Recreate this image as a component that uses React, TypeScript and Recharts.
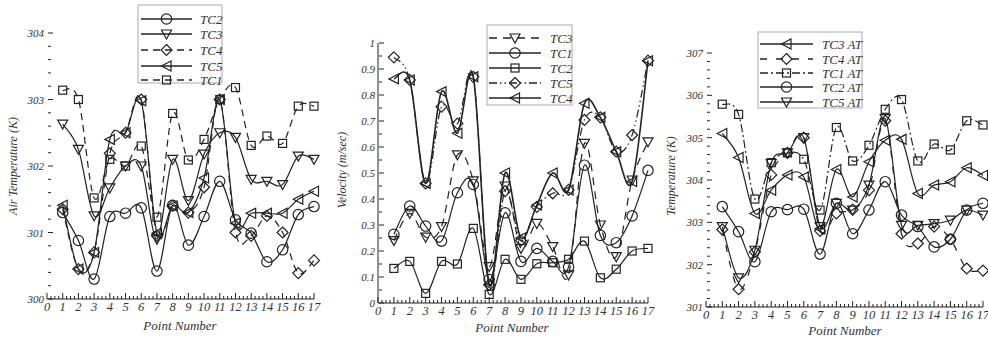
import React from 'react'
import { LineChart, Line, XAxis, YAxis } from 'recharts'

// point numbers along the channel
const points = [1, 2, 3, 4, 5, 6, 7, 8, 9, 10, 11, 12, 13, 14, 15, 16, 17]
const xLabels = [0, 1, 2, 3, 4, 5, 6, 7, 8, 9, 10, 11, 12, 13, 14, 15, 16, 17]

// left panel: air temperature (K)
const airTC1 = [303.14, 303.0, 301.52, 302.1, 302.0, 302.3, 301.23, 302.79, 302.09, 302.4, 303.0, 303.18, 302.31, 302.45, 302.34, 302.9, 302.9]
const airTC2 = [301.3, 300.88, 300.3, 301.24, 301.29, 301.37, 300.42, 301.41, 300.81, 301.24, 301.77, 301.19, 300.99, 300.56, 300.74, 301.27, 301.39]
const airTC3 = [302.63, 302.25, 301.25, 301.67, 302.0, 302.0, 300.9, 302.1, 301.48, 302.18, 302.5, 302.43, 301.8, 301.77, 301.72, 302.15, 302.1]
const airTC4 = [301.35, 300.45, 300.7, 302.19, 302.5, 303.0, 300.95, 301.4, 301.3, 301.68, 303.0, 301.0, 300.95, 301.25, 301.0, 300.39, 300.58]
const airTC5 = [301.41, 300.45, 300.7, 302.4, 302.5, 302.98, 300.99, 301.4, 301.3, 301.82, 303.0, 301.14, 301.29, 301.29, 301.29, 301.5, 301.62]
const airYLabels = [300, 301, 302, 303, 304]

// middle panel: velocity (m/sec)
const velTC1 = [0.264, 0.373, 0.296, 0.238, 0.424, 0.456, 0.09, 0.347, 0.16, 0.21, 0.16, 0.138, 0.53, 0.26, 0.232, 0.335, 0.51]
const velTC2 = [0.133, 0.16, 0.037, 0.16, 0.15, 0.287, 0.033, 0.168, 0.091, 0.151, 0.155, 0.168, 0.238, 0.097, 0.13, 0.2, 0.21]
const velTC3 = [0.24, 0.345, 0.253, 0.294, 0.57, 0.47, 0.14, 0.45, 0.21, 0.306, 0.217, 0.108, 0.614, 0.3, 0.178, 0.473, 0.62]
const velTC4 = [0.862, 0.858, 0.46, 0.813, 0.653, 0.87, 0.07, 0.5, 0.25, 0.377, 0.5, 0.435, 0.768, 0.714, 0.582, 0.467, 0.932]
const velTC5 = [0.945, 0.858, 0.46, 0.755, 0.69, 0.87, 0.07, 0.43, 0.24, 0.37, 0.422, 0.435, 0.704, 0.714, 0.582, 0.646, 0.932]
const velYLabels = [0, 0.1, 0.2, 0.3, 0.4, 0.5, 0.6, 0.7, 0.8, 0.9, 1]

// right panel: temperature AT (K)
const atTC1 = [305.79, 305.55, 303.55, 304.41, 304.64, 304.49, 303.29, 305.24, 304.45, 304.82, 305.67, 305.9, 304.45, 304.85, 304.71, 305.4, 305.3]
const atTC2 = [303.37, 302.78, 302.07, 303.25, 303.3, 303.31, 302.25, 303.45, 302.73, 303.29, 303.96, 303.17, 302.9, 302.42, 302.6, 303.29, 303.45]
const atTC3 = [305.1, 304.53, 303.21, 303.76, 304.12, 304.07, 302.85, 304.25, 303.6, 304.43, 304.94, 304.96, 303.68, 303.88, 303.96, 304.29, 304.11]
const atTC4 = [302.83, 301.42, 302.3, 304.12, 304.64, 305.0, 302.8, 303.21, 303.3, 303.76, 305.4, 302.73, 302.5, 302.9, 302.6, 301.91, 301.86]
const atTC5 = [302.9, 301.69, 302.34, 304.39, 304.64, 305.0, 302.9, 303.45, 303.29, 303.88, 305.45, 302.93, 302.93, 302.97, 303.05, 303.29, 303.17]
const atYLabels = [301, 302, 303, 304, 305, 306, 307]

const INK = '#222'
const FONT = '"Liberation Serif", "DejaVu Serif", serif'

type Shape = 'circle' | 'square' | 'diamond' | 'down' | 'left'
type Series = { key: string; name: string; values: number[]; shape: Shape; dash?: string; width?: number }

function rowsOf(series: Series[]) {
  return points.map((p, i) => {
    const row: any = { point: p }
    series.forEach(s => { row[s.key] = s.values[i] })
    return row
  })
}

// minor ticks between labelled ones
function withMinor(labels: number[], parts: number) {
  const out: number[] = []
  for (let i = 0; i < labels.length; i++) {
    out.push(labels[i])
    if (i < labels.length - 1) {
      const step = (labels[i + 1] - labels[i]) / parts
      for (let k = 1; k < parts; k++) out.push(Math.round((labels[i] + k * step) * 1000) / 1000)
    }
  }
  return out
}

// catmull-rom style spline, like the plotting package used
function spline(context: any) {
  let pts: number[][] = []
  return {
    areaStart() {},
    areaEnd() {},
    lineStart() { pts = [] },
    point(x: number, y: number) { pts.push([+x, +y]) },
    lineEnd() {
      if (!pts.length) return
      context.moveTo(pts[0][0], pts[0][1])
      const k = 1 / 6
      for (let i = 0; i < pts.length - 1; i++) {
        const p0 = pts[i - 1] || pts[i]
        const p1 = pts[i]
        const p2 = pts[i + 1]
        const p3 = pts[i + 2] || p2
        context.bezierCurveTo(
          p1[0] + (p2[0] - p0[0]) * k, p1[1] + (p2[1] - p0[1]) * k,
          p2[0] - (p3[0] - p1[0]) * k, p2[1] - (p3[1] - p1[1]) * k,
          p2[0], p2[1])
      }
    },
  }
}

function Marker({ shape, cx, cy }: { shape: Shape; cx: number; cy: number }) {
  const st = { fill: 'none', stroke: INK, strokeWidth: 1.2 }
  if (cx == null || cy == null) return null
  switch (shape) {
    case 'circle':
      return <circle cx={cx} cy={cy} r={5.2} {...st} />
    case 'square':
      return <rect x={cx - 4} y={cy - 4} width={8} height={8} {...st} />
    case 'diamond':
      return <polygon points={`${cx},${cy - 5.5} ${cx + 5.5},${cy} ${cx},${cy + 5.5} ${cx - 5.5},${cy}`} {...st} />
    case 'down':
      return <polygon points={`${cx - 5},${cy - 4} ${cx + 5},${cy - 4} ${cx},${cy + 5}`} {...st} />
    default:
      return <polygon points={`${cx + 4.5},${cy - 5} ${cx + 4.5},${cy + 5} ${cx - 5},${cy}`} {...st} />
  }
}

function XTick(props: any) {
  const { x, y, payload } = props
  const v = payload.value
  const major = Number.isInteger(v)
  return (
    <g>
      <line x1={x} x2={x} y1={y} y2={y - (major ? 6 : 3)} stroke={INK} strokeWidth={1} />
      {major && (
        <text x={x} y={y + 12} textAnchor="middle" fontFamily={FONT} fontStyle="italic" fontSize={12.5} fill="#333">
          {v}
        </text>
      )}
    </g>
  )
}

function makeYTick(labels: number[]) {
  return (props: any) => {
    const { x, y, payload } = props
    const v = payload.value
    const major = labels.some(l => Math.abs(l - v) < 1e-6)
    return (
      <g>
        <line x1={x + 1} x2={x + (major ? 6 : 4)} y1={y} y2={y} stroke={INK} strokeWidth={1} />
        {major && (
          <text x={x - 3} y={y + 4} textAnchor="end" fontFamily={FONT} fontStyle="italic" fontSize={11} fill="#333">
            {v}
          </text>
        )}
      </g>
    )
  }
}

type Panel = {
  left: number; width: number; top: number; right: number; bottom: number; axisW: number
  domain: [number, number]; yLabels: number[]; minor: number; yLine: boolean
  series: Series[]; title: string; titleX: number; titleY: number; xTitle: number; xTitleY: number
  legend: { x: number; y: number; w: number; h: number; lx0: number; lx1: number; tx: number; rows: number[] }
}

const panels: Panel[] = [
  {
    left: 0, width: 330, top: 33, right: 16, bottom: 43, axisW: 47,
    domain: [300, 304], yLabels: airYLabels, minor: 5, yLine: false,
    series: [
      { key: 'TC2', name: 'TC2', values: airTC2, shape: 'circle' },
      { key: 'TC3', name: 'TC3', values: airTC3, shape: 'down' },
      { key: 'TC4', name: 'TC4', values: airTC4, shape: 'diamond', dash: '7 5' },
      { key: 'TC5', name: 'TC5', values: airTC5, shape: 'left' },
      { key: 'TC1', name: 'TC1', values: airTC1, shape: 'square', dash: '7 5' },
    ],
    title: 'Air Temperature (K)', titleX: 17, titleY: 166, xTitle: 180, xTitleY: 330,
    legend: { x: 138, y: 5, w: 84, h: 78, lx0: 141, lx1: 192, tx: 200, rows: [19, 34, 50, 66, 80] },
  },
  {
    left: 330, width: 330, top: 43, right: 12, bottom: 39, axisW: 48,
    domain: [0, 1], yLabels: velYLabels, minor: 2, yLine: true,
    series: [
      { key: 'TC3', name: 'TC3', values: velTC3, shape: 'down', dash: '8 6' },
      { key: 'TC1', name: 'TC1', values: velTC1, shape: 'circle' },
      { key: 'TC2', name: 'TC2', values: velTC2, shape: 'square' },
      { key: 'TC5', name: 'TC5', values: velTC5, shape: 'diamond', dash: '8 3 1.5 3 1.5 3' },
      { key: 'TC4', name: 'TC4', values: velTC4, shape: 'left', width: 1.6 },
    ],
    title: 'Velocity (m/sec)', titleX: 346, titleY: 170, xTitle: 512, xTitleY: 332,
    legend: { x: 487, y: 25, w: 85, h: 80, lx0: 489, lx1: 541, tx: 550, rows: [38, 53, 68, 83, 98] },
  },
  {
    left: 660, width: 328, top: 53, right: 5, bottom: 35, axisW: 46,
    domain: [301, 307], yLabels: atYLabels, minor: 5, yLine: false,
    series: [
      { key: 'TC3', name: 'TC3 AT', values: atTC3, shape: 'left' },
      { key: 'TC4', name: 'TC4 AT', values: atTC4, shape: 'diamond', dash: '7 9' },
      { key: 'TC1', name: 'TC1 AT', values: atTC1, shape: 'square', dash: '8 3 2 3' },
      { key: 'TC2', name: 'TC2 AT', values: atTC2, shape: 'circle' },
      { key: 'TC5', name: 'TC5 AT', values: atTC5, shape: 'down' },
    ],
    title: 'Temperature (K)', titleX: 675, titleY: 176, xTitle: 845, xTitleY: 335,
    legend: { x: 758, y: 32, w: 104, h: 76, lx0: 760, lx1: 813, tx: 822, rows: [44, 59, 73, 87, 102] },
  },
]

const xTicks = withMinor(xLabels, 4)

function PanelChart({ p }: { p: Panel }) {
  const rows = rowsOf(p.series)
  return (
    <div style={{ position: 'absolute', left: p.left, top: 0 }}>
      <LineChart width={p.width} height={342} data={rows} margin={{ top: p.top, right: p.right, bottom: 0, left: 0 }}>
        <XAxis
          dataKey="point" type="number" domain={[0, 17]} ticks={xTicks} interval={0}
          tickSize={0} tickMargin={0} tick={(props: any) => <XTick {...props} />}
          axisLine={{ stroke: INK }} height={p.bottom}
        />
        <YAxis
          type="number" domain={p.domain} ticks={withMinor(p.yLabels, p.minor)} interval={0}
          tickSize={0} tickMargin={0} tick={makeYTick(p.yLabels)} allowDataOverflow
          axisLine={p.yLine ? { stroke: INK } : false} width={p.axisW}
        />
        {p.series.map(s => (
          <Line
            key={s.key} dataKey={s.key} name={s.name} type={spline as any}
            stroke={INK} strokeWidth={s.width ?? 1.2} strokeDasharray={s.dash}
            dot={(d: any) => <Marker key={`${s.key}-${d.index}`} shape={s.shape} cx={d.cx} cy={d.cy} />}
            activeDot={false} isAnimationActive={false}
          />
        ))}
      </LineChart>
    </div>
  )
}

function Overlay() {
  return (
    <svg width={988} height={342} style={{ position: 'absolute', left: 0, top: 0, pointerEvents: 'none' }}>
      {panels.map((p, pi) => (
        <g key={pi} fontFamily={FONT} fontStyle="italic" fill="#333">
          <text x={p.titleX} y={p.titleY} transform={`rotate(-90 ${p.titleX} ${p.titleY})`} textAnchor="middle" fontSize={12}>
            {p.title}
          </text>
          <text x={p.xTitle} y={p.xTitleY} textAnchor="middle" fontSize={13}>Point Number</text>
          <rect x={p.legend.x} y={p.legend.y} width={p.legend.w} height={p.legend.h} fill="#fff" stroke="#aaa" strokeWidth={1} />
          {p.series.map((s, i) => {
            const ly = p.legend.rows[i]
            const mx = (p.legend.lx0 + p.legend.lx1) / 2
            return (
              <g key={s.key}>
                <line x1={p.legend.lx0} x2={p.legend.lx1} y1={ly} y2={ly} stroke={INK} strokeWidth={s.width ?? 1.3} strokeDasharray={s.dash} />
                <Marker shape={s.shape} cx={mx} cy={ly} />
                <text x={p.legend.tx} y={ly + 4.5} fontSize={13} fill="#333">{s.name}</text>
              </g>
            )
          })}
        </g>
      ))}
    </svg>
  )
}

export default function App() {
  return (
    <div style={{ position: 'absolute', left: 0, top: 0, width: 988, height: 342, background: '#fff', overflow: 'hidden' }}>
      {panels.map((p, i) => <PanelChart key={i} p={p} />)}
      <Overlay />
    </div>
  )
}
